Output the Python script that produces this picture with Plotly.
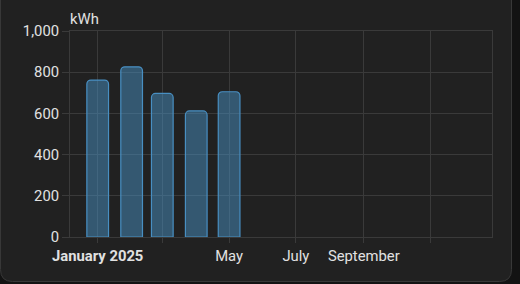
import plotly.graph_objects as go

# ---- data ----
months = ["2025-01-01", "2025-02-01", "2025-03-01", "2025-04-01", "2025-05-01"]
energy_kwh = [762, 826, 697, 612, 705]
x_tick_dates = ["2025-01-01", "2025-03-01", "2025-05-01", "2025-07-01", "2025-09-01", "2025-11-01"]
x_tick_text = ["<b>January 2025</b>", "", "May", "July", "September", ""]
y_tick_vals = [0, 200, 400, 600, 800, 1000]
unit_label = "kWh"

# ---- layout geometry ----
W, H = 520, 284
ML, MR, MT, MB = 70, 28, 31, 47
PW, PH = W - ML - MR, H - MT - MB
DAY_MS = 86400000
GRID = "#3a3a3a"
TEXT = "#e1e1e1"
CARD_BG = "#212121"
PAGE_BG = "#131313"
FS = 14.8


def px(x):
    return (x - ML) / PW


def py(y):
    return (H - MB - y) / PH


# card outline with rounded bottom corners (pixel coords -> paper)
l, r, t, b, rad = 0.5, 511.5, -20, 281.5, 12
card_path = (
    f"M {px(l)},{py(t)} L {px(r)},{py(t)} L {px(r)},{py(b - rad)} "
    f"Q {px(r)},{py(b)} {px(r - rad)},{py(b)} L {px(l + rad)},{py(b)} "
    f"Q {px(l)},{py(b)} {px(l)},{py(b - rad)} Z"
)

fig = go.Figure()
fig.add_trace(
    go.Bar(
        x=months,
        y=energy_kwh,
        width=19.8 * DAY_MS,
        marker=dict(
            color="rgba(72,143,194,0.5)",
            line=dict(color="#488fc2", width=1.2),
            cornerradius=4,
        ),
        hoverinfo="skip",
    )
)

fig.update_layout(
    width=W,
    height=H,
    margin=dict(l=ML, r=MR, t=MT, b=MB),
    paper_bgcolor=PAGE_BG,
    plot_bgcolor="rgba(0,0,0,0)",
    showlegend=False,
    font=dict(family="Roboto", size=FS, color=TEXT),
    shapes=[
        dict(
            type="path",
            xref="paper",
            yref="paper",
            path=card_path,
            fillcolor=CARD_BG,
            line=dict(color="#383838", width=1),
            layer="below",
        )
    ],
    annotations=[
        dict(
            text=unit_label,
            xref="paper",
            yref="paper",
            x=px(68),
            y=py(19.5),
            xanchor="left",
            yanchor="middle",
            showarrow=False,
            font=dict(size=FS, color=TEXT),
        )
    ],
)

fig.update_xaxes(
    type="date",
    range=["2024-12-06 17:00", "2025-12-27 02:00"],
    tickvals=x_tick_dates,
    ticktext=x_tick_text,
    tickangle=0,
    showgrid=True,
    gridcolor=GRID,
    gridwidth=1,
    showline=True,
    linecolor=GRID,
    linewidth=1,
    mirror=True,
    ticks="outside",
    ticklen=5,
    tickcolor=GRID,
    zeroline=False,
    tickfont=dict(size=FS, color=TEXT),
)

fig.update_yaxes(
    range=[0, 1000],
    tickvals=y_tick_vals,
    tickformat=",",
    showgrid=True,
    gridcolor=GRID,
    gridwidth=1,
    showline=True,
    linecolor=GRID,
    linewidth=1,
    mirror=True,
    ticks="outside",
    ticklen=7,
    tickcolor=GRID,
    zeroline=False,
    tickfont=dict(size=FS, color=TEXT),
)

fig.write_html("out.html")
